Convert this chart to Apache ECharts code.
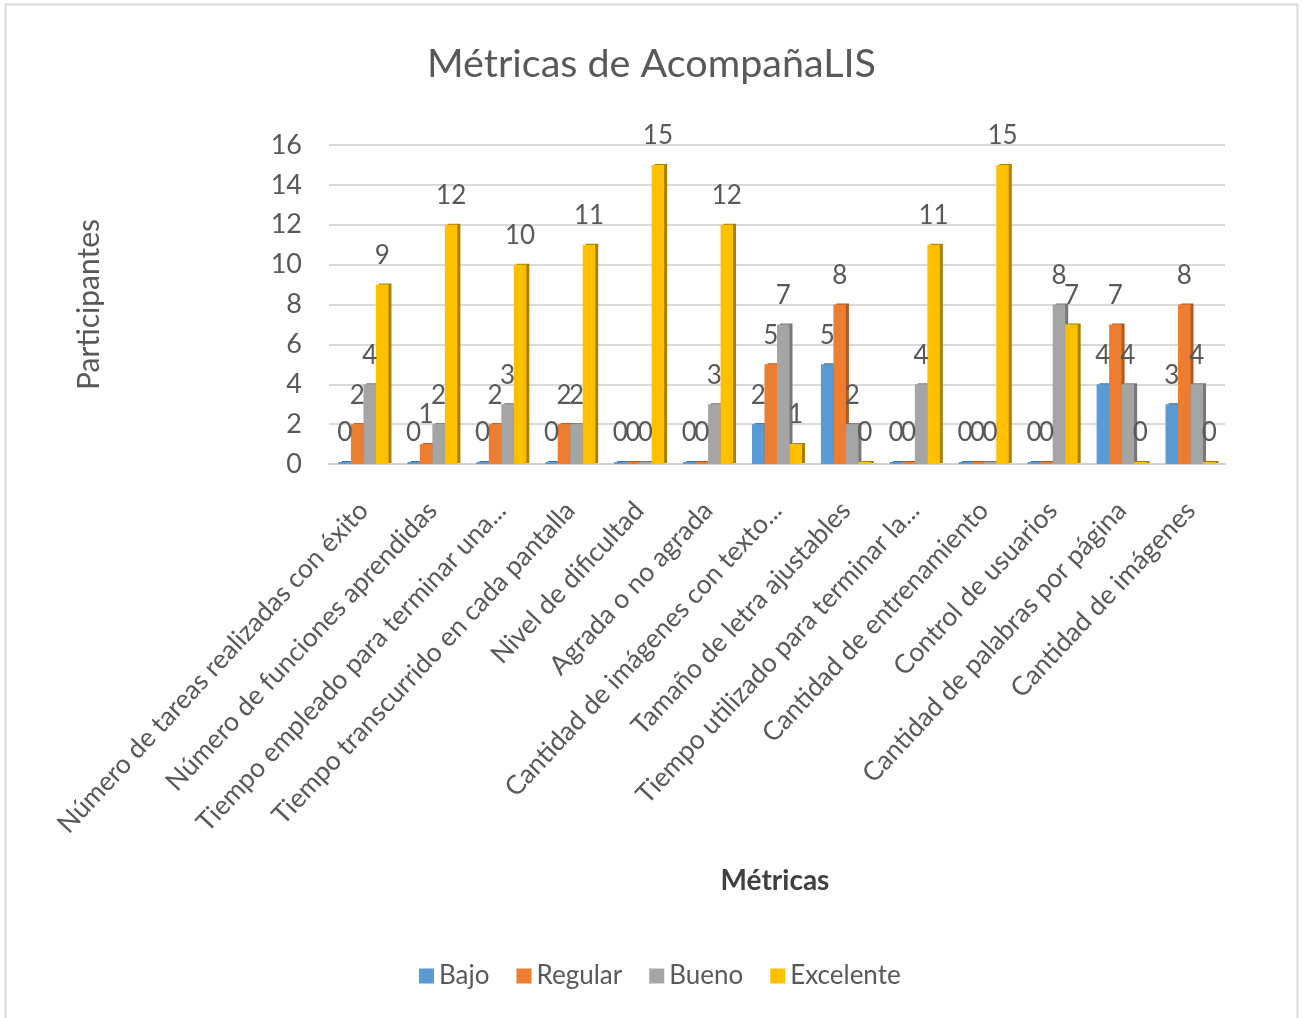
<!DOCTYPE html>
<html><head><meta charset="utf-8">
<style>html,body{margin:0;padding:0;background:#fff}#c{width:1303px;height:1018px}</style>
<script src="https://cdn.jsdelivr.net/npm/echarts@6/dist/echarts.min.js"></script>
</head><body><div id="c"></div>
<script>
const categories=["Número de tareas realizadas con éxito","Número de funciones aprendidas","Tiempo empleado para terminar una...","Tiempo transcurrido en cada pantalla","Nivel de dificultad","Agrada o no agrada","Cantidad de imágenes con texto...","Tamaño de letra ajustables","Tiempo utilizado para terminar la...","Cantidad de entrenamiento","Control de usuarios","Cantidad de palabras por página","Cantidad de imágenes"];
const bajo=[0,0,0,0,0,0,2,5,0,0,0,4,3];
const regular=[2,1,2,2,0,0,5,8,0,0,0,7,8];
const bueno=[4,2,3,2,0,3,7,2,4,0,8,4,4];
const excelente=[9,12,10,11,15,12,1,0,11,15,7,0,0];
const names=["Bajo","Regular","Bueno","Excelente"];
const colors=["#5B9BD5","#ED7D31","#A5A5A5","#FFC000"];
const sides=["#41719C","#AE5A21","#787878","#A98000"];
const font="Lato";
const mk=(i,data)=>({name:names[i],type:'bar',data,barWidth:12.5,barGap:'0%',barMinHeight:2,
 itemStyle:{color:colors[i],borderWidth:0,shadowColor:sides[i],shadowBlur:0,shadowOffsetX:3,shadowOffsetY:-1},
 label:{show:true,position:'top',distance:16,color:'#595959',fontSize:26,fontFamily:font}});
const chart=echarts.init(document.getElementById('c'));
chart.setOption({animation:false,
 graphic:[{type:'rect',shape:{x:5.5,y:4.5,width:1292,height:1030},style:{fill:'none',stroke:'#d9d9d9',lineWidth:2}}],
 title:{text:"Métricas de AcompañaLIS",left:'center',top:39,textStyle:{color:'#595959',fontSize:39.5,fontWeight:'normal',fontFamily:font}},
 color:colors,
 legend:{bottom:24,left:414,itemWidth:15,itemHeight:15,itemGap:27,icon:'rect',
  itemStyle:{borderWidth:0,shadowBlur:0,shadowOffsetX:0,shadowOffsetY:0,shadowColor:'transparent'},
  textStyle:{color:'#595959',fontSize:26,fontFamily:font},data:names},
 grid:{left:329,right:78,top:145,bottom:554},
 xAxis:{type:'category',data:categories,name:"Métricas",nameLocation:'middle',nameGap:403,
  nameTextStyle:{color:'#404040',fontSize:28,fontWeight:'bold',fontFamily:font,padding:[0,0,0,-4]},
  axisLine:{lineStyle:{color:'#d0d0d0',width:2}},axisTick:{show:false},
  axisLabel:{rotate:47,interval:0,color:'#595959',fontSize:26.5,fontFamily:font,margin:42}},
 yAxis:{type:'value',min:0,max:16,interval:2,name:"Participantes",nameLocation:'middle',nameGap:225,nameRotate:90,
  nameTextStyle:{color:'#595959',fontSize:30,fontWeight:'normal',fontFamily:font},
  axisLine:{show:false},axisTick:{show:false},
  axisLabel:{color:'#595959',fontSize:27,fontFamily:font,margin:27},
  splitLine:{lineStyle:{color:'#d9d9d9',width:2}}},
 series:[mk(0,bajo),mk(1,regular),mk(2,bueno),mk(3,excelente)]
});
</script></body></html>
